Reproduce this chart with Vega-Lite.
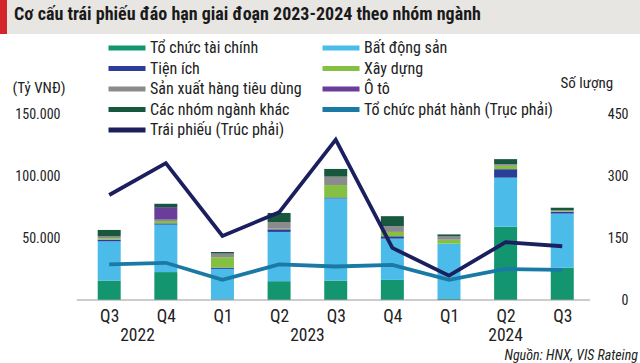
{
  "$schema": "https://vega.github.io/schema/vega-lite/v6.json",
  "padding": 0,
  "bounds": "flush",
  "spacing": 114,
  "config": {
    "view": {"stroke": null},
    "locale": {"number": {"decimal": ",", "thousands": ".", "grouping": [3], "currency": ["", " ₫"]}},
    "font": "'Liberation Sans Narrow', 'Roboto Condensed', Roboto, sans-serif"
  },
  "datasets": {
    "bars": [
      {"i": 0, "nhom": "Tổ chức tài chính", "v": 15700},
      {"i": 0, "nhom": "Bất động sản", "v": 31600},
      {"i": 0, "nhom": "Tiện ích", "v": 1300},
      {"i": 0, "nhom": "Xây dựng", "v": 1000},
      {"i": 0, "nhom": "Sản xuất hàng tiêu dùng", "v": 2000},
      {"i": 0, "nhom": "Các nhóm ngành khác", "v": 4900},
      {"i": 1, "nhom": "Tổ chức tài chính", "v": 22500},
      {"i": 1, "nhom": "Bất động sản", "v": 38300},
      {"i": 1, "nhom": "Tiện ích", "v": 1000},
      {"i": 1, "nhom": "Xây dựng", "v": 1900},
      {"i": 1, "nhom": "Sản xuất hàng tiêu dùng", "v": 1100},
      {"i": 1, "nhom": "Ô tô", "v": 10100},
      {"i": 1, "nhom": "Các nhóm ngành khác", "v": 2700},
      {"i": 2, "nhom": "Tổ chức tài chính", "v": 500},
      {"i": 2, "nhom": "Bất động sản", "v": 24600},
      {"i": 2, "nhom": "Tiện ích", "v": 1000},
      {"i": 2, "nhom": "Xây dựng", "v": 8400},
      {"i": 2, "nhom": "Sản xuất hàng tiêu dùng", "v": 2700},
      {"i": 2, "nhom": "Ô tô", "v": 300},
      {"i": 2, "nhom": "Các nhóm ngành khác", "v": 1200},
      {"i": 3, "nhom": "Tổ chức tài chính", "v": 15200},
      {"i": 3, "nhom": "Bất động sản", "v": 39700},
      {"i": 3, "nhom": "Tiện ích", "v": 2100},
      {"i": 3, "nhom": "Xây dựng", "v": 500},
      {"i": 3, "nhom": "Sản xuất hàng tiêu dùng", "v": 5400},
      {"i": 3, "nhom": "Các nhóm ngành khác", "v": 7300},
      {"i": 4, "nhom": "Tổ chức tài chính", "v": 15700},
      {"i": 4, "nhom": "Bất động sản", "v": 66200},
      {"i": 4, "nhom": "Tiện ích", "v": 800},
      {"i": 4, "nhom": "Xây dựng", "v": 10000},
      {"i": 4, "nhom": "Sản xuất hàng tiêu dùng", "v": 6800},
      {"i": 4, "nhom": "Các nhóm ngành khác", "v": 6200},
      {"i": 5, "nhom": "Tổ chức tài chính", "v": 16200},
      {"i": 5, "nhom": "Bất động sản", "v": 33300},
      {"i": 5, "nhom": "Tiện ích", "v": 1900},
      {"i": 5, "nhom": "Xây dựng", "v": 3500},
      {"i": 5, "nhom": "Sản xuất hàng tiêu dùng", "v": 4600},
      {"i": 5, "nhom": "Các nhóm ngành khác", "v": 8100},
      {"i": 6, "nhom": "Tổ chức tài chính", "v": 800},
      {"i": 6, "nhom": "Bất động sản", "v": 44600},
      {"i": 6, "nhom": "Xây dựng", "v": 3200},
      {"i": 6, "nhom": "Sản xuất hàng tiêu dùng", "v": 2700},
      {"i": 6, "nhom": "Các nhóm ngành khác", "v": 1600},
      {"i": 7, "nhom": "Tổ chức tài chính", "v": 59000},
      {"i": 7, "nhom": "Bất động sản", "v": 39700},
      {"i": 7, "nhom": "Tiện ích", "v": 6800},
      {"i": 7, "nhom": "Xây dựng", "v": 2700},
      {"i": 7, "nhom": "Sản xuất hàng tiêu dùng", "v": 1400},
      {"i": 7, "nhom": "Các nhóm ngành khác", "v": 4000},
      {"i": 8, "nhom": "Tổ chức tài chính", "v": 26000},
      {"i": 8, "nhom": "Bất động sản", "v": 43700},
      {"i": 8, "nhom": "Tiện ích", "v": 1400},
      {"i": 8, "nhom": "Xây dựng", "v": 500},
      {"i": 8, "nhom": "Sản xuất hàng tiêu dùng", "v": 800},
      {"i": 8, "nhom": "Các nhóm ngành khác", "v": 2000}
    ],
    "lines": [
      {"i": 0, "nhom": "Trái phiếu (Trúc phải)", "n": 254},
      {"i": 1, "nhom": "Trái phiếu (Trúc phải)", "n": 331},
      {"i": 2, "nhom": "Trái phiếu (Trúc phải)", "n": 155},
      {"i": 3, "nhom": "Trái phiếu (Trúc phải)", "n": 212},
      {"i": 4, "nhom": "Trái phiếu (Trúc phải)", "n": 388},
      {"i": 5, "nhom": "Trái phiếu (Trúc phải)", "n": 126},
      {"i": 6, "nhom": "Trái phiếu (Trúc phải)", "n": 59},
      {"i": 7, "nhom": "Trái phiếu (Trúc phải)", "n": 140},
      {"i": 8, "nhom": "Trái phiếu (Trúc phải)", "n": 130},
      {"i": 0, "nhom": "Tổ chức phát hành (Trục phải)", "n": 86},
      {"i": 1, "nhom": "Tổ chức phát hành (Trục phải)", "n": 90},
      {"i": 2, "nhom": "Tổ chức phát hành (Trục phải)", "n": 49},
      {"i": 3, "nhom": "Tổ chức phát hành (Trục phải)", "n": 86},
      {"i": 4, "nhom": "Tổ chức phát hành (Trục phải)", "n": 81},
      {"i": 5, "nhom": "Tổ chức phát hành (Trục phải)", "n": 85},
      {"i": 6, "nhom": "Tổ chức phát hành (Trục phải)", "n": 49},
      {"i": 7, "nhom": "Tổ chức phát hành (Trục phải)", "n": 75},
      {"i": 8, "nhom": "Tổ chức phát hành (Trục phải)", "n": 73}
    ],
    "years": [
      {"i": 0.5, "nam": "2022"},
      {"i": 3.5, "nam": "2023"},
      {"i": 7, "nam": "2024"}
    ]
  },
  "vconcat": [
    {
      "hconcat": [
        {
          "width": 7, "height": 34,
          "view": {"fill": "#d3262c", "stroke": null},
          "data": {"values": []},
          "mark": "rect"
        },
        {
          "width": 633, "height": 34,
          "view": {"fill": "#e8e6e3", "stroke": null},
          "data": {"values": []},
          "mark": "rect",
          "title": {
            "text": "Cơ cấu trái phiếu đáo hạn giai đoạn 2023-2024 theo nhóm ngành",
            "orient": "bottom", "anchor": "start", "frame": "group",
            "offset": -28, "dx": 7, "baseline": "top",
            "font": "'Liberation Sans Narrow', 'Roboto Condensed', Roboto, sans-serif",
            "fontSize": 18, "fontWeight": "bold", "color": "#1a1a1a"
          }
        }
      ],
      "spacing": 0,
      "bounds": "flush"
    },
    {
      "width": 595,
      "height": 186,
      "title": {
        "text": "Nguồn: HNX, VIS Rateing",
        "orient": "bottom", "anchor": "end", "frame": "group",
        "dx": 43, "offset": 4,
        "fontSize": 14, "fontStyle": "italic", "fontWeight": "normal", "color": "#222"
      },
      "layer": [
        {
          "layer": [
            {
              "data": {"name": "bars"},
              "transform": [
                {"calculate": "indexof(['Tổ chức tài chính', 'Bất động sản', 'Tiện ích', 'Xây dựng', 'Sản xuất hàng tiêu dùng', 'Ô tô', 'Các nhóm ngành khác'], datum.nhom)", "as": "thu_tu"}
              ],
              "mark": {"type": "bar", "size": 23},
              "encoding": {
                "x": {
                  "field": "i", "type": "quantitative",
                  "scale": {"domain": [-1.84, 8.49], "nice": false, "zero": false},
                  "axis": {
                    "values": [0, 1, 2, 3, 4, 5, 6, 7, 8],
                    "labelExpr": "['Q3','Q4','Q1','Q2','Q3','Q4','Q1','Q2','Q3'][datum.value]",
                    "domain": false, "ticks": false, "grid": false,
                    "labelFontSize": 17.5, "labelColor": "#222", "labelPadding": 7,
                    "title": null
                  }
                },
                "y": {
                  "field": "v", "type": "quantitative", "stack": "zero",
                  "scale": {"domain": [0, 150000], "nice": false},
                  "axis": {
                    "orient": "left", "offset": -73,
                    "values": [0, 50000, 100000, 150000],
                    "format": ",d",
                    "labelExpr": "datum.value == 0 ? '' : datum.label",
                    "domain": false, "ticks": false, "grid": false,
                    "labelFontSize": 14, "labelColor": "#222", "labelPadding": 13,
                    "title": "(Tỷ VNĐ)", "titleAngle": 0, "titleAlign": "left",
                    "titleBaseline": "middle", "titleX": -61, "titleY": -27,
                    "titleFontSize": 15, "titleFontWeight": "normal", "titleColor": "#222"
                  }
                },
                "order": {"field": "thu_tu", "type": "quantitative", "sort": "ascending"},
                "color": {
                  "field": "nhom", "type": "nominal",
                  "scale": {
                    "domain": ["Tổ chức tài chính", "Tiện ích", "Sản xuất hàng tiêu dùng", "Các nhóm ngành khác", "Trái phiếu (Trúc phải)", "Bất động sản", "Xây dựng", "Ô tô", "Tổ chức phát hành (Trục phải)"],
                    "range": ["#13966f", "#2b3d98", "#8b8b8d", "#16573d", "#1b1f5e", "#4bbbea", "#84c042", "#6a3d99", "#1a79a5"]
                  },
                  "legend": {
                    "orient": "none", "legendX": 106, "legendY": 39,
                    "columns": 2, "columnPadding": 18,
                    "symbolType": "stroke", "symbolSize": 1369, "symbolStrokeWidth": 5,
                    "clipHeight": 18, "rowPadding": 2.5,
                    "labelFontSize": 16, "labelColor": "#222", "labelOffset": 2, "labelLimit": 400,
                    "title": null,
                    "encode": {"symbols": {"update": {"stroke": {"scale": "color", "field": "value"}, "strokeWidth": {"value": 5}, "opacity": {"value": 1}}}}
                  }
                }
              }
            },
            {
              "data": {"values": [{}]},
              "mark": {"type": "rule", "color": "#9a9a9a", "strokeWidth": 1},
              "encoding": {
                "x": {"datum": -0.573, "type": "quantitative"},
                "x2": {"datum": 8.49},
                "y": {"datum": 0, "type": "quantitative"}
              }
            },
            {
              "data": {"name": "years"},
              "mark": {"type": "text", "baseline": "top", "dy": 27, "fontSize": 17.5, "color": "#222"},
              "encoding": {
                "x": {"field": "i", "type": "quantitative"},
                "y": {"datum": 0, "type": "quantitative"},
                "text": {"field": "nam"}
              }
            }
          ]
        },
        {
          "data": {"name": "lines"},
          "mark": {"type": "line", "strokeWidth": 3.8},
          "encoding": {
            "x": {"field": "i", "type": "quantitative"},
            "y": {
              "field": "n", "type": "quantitative",
              "scale": {"domain": [0, 450], "nice": false},
              "axis": {
                "orient": "right",
                "values": [0, 150, 300, 450],
                "domain": false, "ticks": false, "grid": false,
                "labelFontSize": 14, "labelColor": "#222", "labelPadding": 33, "labelAlign": "right",
                "title": "Số lượng", "titleAngle": 0, "titleAlign": "left",
                "titleBaseline": "middle", "titleX": -35, "titleY": -32,
                "titleFontSize": 15, "titleFontWeight": "normal", "titleColor": "#222"
              }
            },
            "color": {"field": "nhom", "type": "nominal"}
          }
        }
      ],
      "resolve": {"scale": {"y": "independent"}}
    }
  ]
}
